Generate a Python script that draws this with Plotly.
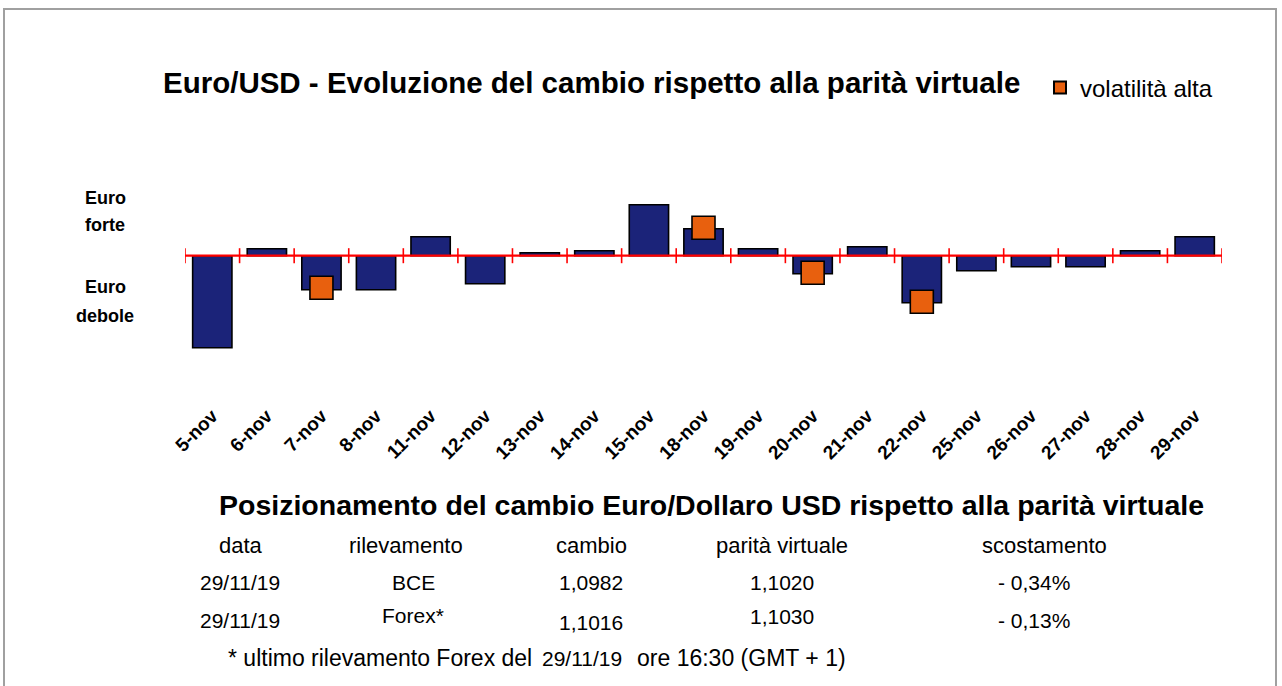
import plotly.graph_objects as go

# ---------------- data ----------------
categories = ["5-nov", "6-nov", "7-nov", "8-nov", "11-nov", "12-nov", "13-nov", "14-nov",
              "15-nov", "18-nov", "19-nov", "20-nov", "21-nov", "22-nov", "25-nov",
              "26-nov", "27-nov", "28-nov", "29-nov"]
scostamento = [-0.92, 0.07, -0.34, -0.34, 0.19, -0.28, 0.03, 0.05,
               0.51, 0.27, 0.07, -0.18, 0.09, -0.47, -0.15,
               -0.11, -0.11, 0.05, 0.19]
vol_days = ["7-nov", "18-nov", "20-nov", "22-nov"]
vol_values = [-0.32, 0.28, -0.17, -0.46]

table_header = ["data", "rilevamento", "cambio", "parità virtuale", "scostamento"]
row_bce = ["29/11/19", "BCE", "1,0982", "1,1020", "- 0,34%"]
row_forex = ["29/11/19", "Forex*", "1,1016", "1,1030", "- 0,13%"]
footnote = ["* ultimo rilevamento Forex del", "29/11/19", "ore 16:30 (GMT + 1)"]

# ---------------- layout geometry ----------------
W, H = 1282, 686
L, R, T, B = 185, 60, 150, 286
PW, PH = W - L - R, H - T - B


def px(x):
    return (x - L) / PW


def py(y):
    return 1 - (y - T) / PH


FONT = "Liberation Sans, Arial, sans-serif"
NAVY = "#1B2379"
ORANGE = "#E8600E"

fig = go.Figure()
fig.add_trace(go.Bar(
    x=categories, y=scostamento,
    marker=dict(color=NAVY, line=dict(color="black", width=1.6)),
    showlegend=False, hoverinfo="x+y",
))
fig.add_trace(go.Scatter(
    x=vol_days, y=vol_values, mode="markers", name="volatilità alta",
    marker=dict(symbol="square", size=23, color=ORANGE,
                line=dict(color="black", width=1.6)),
))

shapes = []
# red zero line with boundary ticks
n = len(categories)
shapes.append(dict(type="line", xref="x", yref="y", x0=-0.5, x1=n - 0.5, y0=0, y1=0,
                   line=dict(color="#FF0000", width=2.2)))
for i in range(n + 1):
    shapes.append(dict(type="line", xref="x", yref="y", x0=i - 0.5, x1=i - 0.5,
                       y0=-0.075, y1=0.075, line=dict(color="#FF0000", width=1.6)))
# outer frame
shapes.append(dict(type="rect", xref="paper", yref="paper",
                   x0=px(4), x1=px(1276), y0=py(9), y1=py(700),
                   line=dict(color="#A0A0A0", width=2), fillcolor="rgba(0,0,0,0)"))

ann = []


def text(x, y, s, size, bold=False, anchor="center"):
    ann.append(dict(x=px(x), y=py(y), xref="paper", yref="paper", text=s,
                    showarrow=False, xanchor=anchor, yanchor="middle",
                    font=dict(family=FONT, size=size, color="black",
                              weight="bold" if bold else "normal")))


# chart title
text(591, 82, "Euro/USD - Evoluzione del cambio rispetto alla parità virtuale", 29.5, True)
# side labels
text(105, 198, "Euro", 18, True)
text(105, 225, "forte", 18, True)
text(105, 287, "Euro", 18, True)
text(105, 316, "debole", 18, True)

# table
text(711, 505, "Posizionamento del cambio Euro/Dollaro USD rispetto alla parità virtuale", 28.5, True)
col_x = [241, 406, 591, 782, 1044]
for cx, s in zip(col_x, table_header):
    text(cx, 545, s, 22)
row_x = [240, 413, 591, 782, 1034]
for cx, s in zip(row_x, row_bce):
    text(cx, 582, s, 21)
row2_y = [620, 615, 622, 616, 620]
for cx, cy, s in zip(row_x, row2_y, row_forex):
    text(cx, cy, s, 21)
text(380, 658, footnote[0], 23)
text(582, 658, footnote[1], 21)
text(741, 658, footnote[2], 23)

fig.update_layout(
    width=W, height=H,
    margin=dict(l=L, r=R, t=T, b=B),
    paper_bgcolor="white", plot_bgcolor="white",
    bargap=0.28,
    shapes=shapes, annotations=ann,
    showlegend=True,
    legend=dict(x=px(1040), y=py(88), xanchor="left", yanchor="middle",
                itemsizing="constant", bgcolor="rgba(0,0,0,0)",
                font=dict(family=FONT, size=24, color="black")),
    xaxis=dict(type="category", tickangle=-45, showgrid=False, zeroline=False,
               showline=False, ticks="", range=[-0.5, n - 0.5],
               tickfont=dict(family=FONT, size=19, color="black", weight="bold")),
    yaxis=dict(range=[-(400 - 255.7) / 100, (255.7 - T) / 100], showgrid=False,
               zeroline=False, showticklabels=False, showline=False),
)

fig.write_html("out.html")
